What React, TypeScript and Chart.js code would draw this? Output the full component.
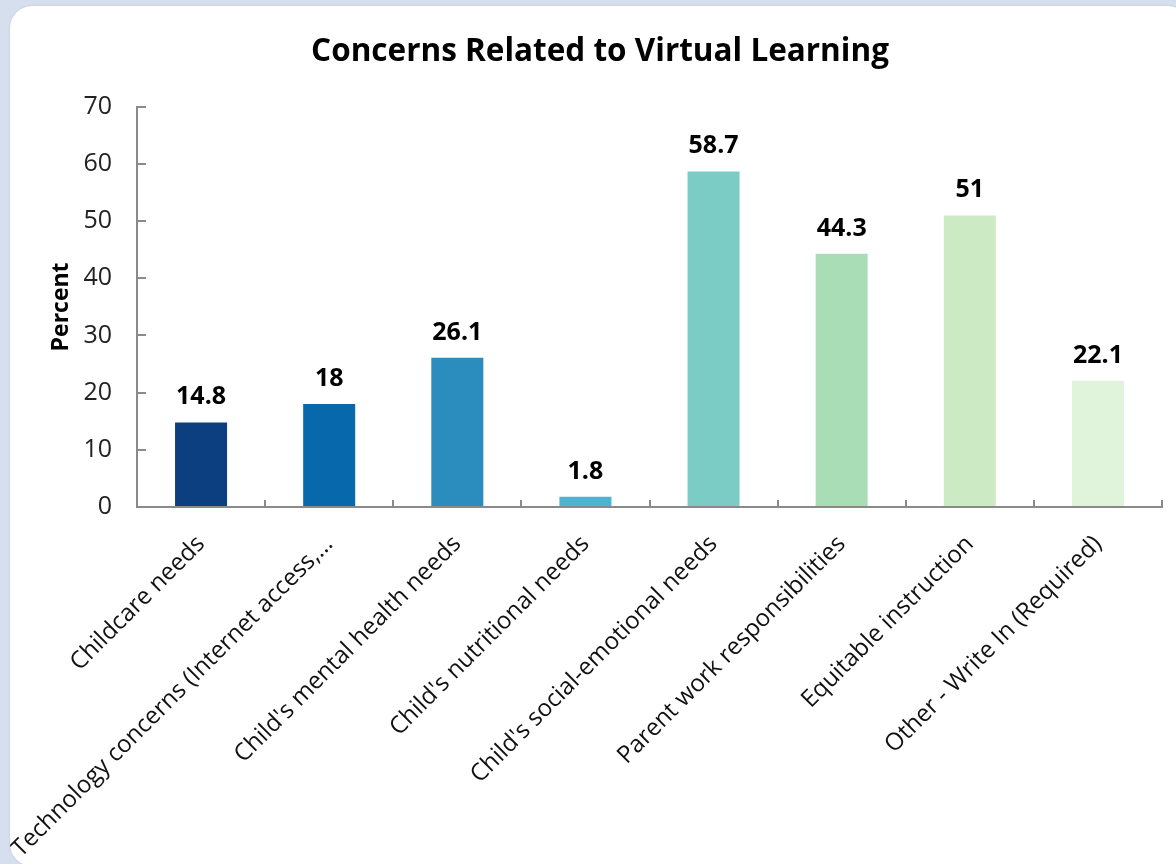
import React, { useEffect, useRef } from "react";
import { Chart, registerables } from "chart.js";

Chart.register(...registerables);

const categories = [
  "Childcare needs",
  "Technology concerns (Internet access,…",
  "Child's mental health needs",
  "Child's nutritional needs",
  "Child's social-emotional needs",
  "Parent work responsibilities",
  "Equitable instruction",
  "Other - Write In (Required)",
];
const values = [14.8, 18, 26.1, 1.8, 58.7, 44.3, 51, 22.1];
const barColors = [
  "#0B3F7F",
  "#0868AC",
  "#2B8CBE",
  "#4EB3D3",
  "#7BCCC4",
  "#A8DDB5",
  "#CCEBC5",
  "#E0F3DB",
];
const yTicks = [0, 10, 20, 30, 40, 50, 60, 70];

const FONT = "'Open Sans', 'Noto Sans', sans-serif";

const valueLabels = {
  id: "valueLabels",
  afterDatasetsDraw(chart: any) {
    const ctx = chart.ctx;
    const meta = chart.getDatasetMeta(0);
    ctx.save();
    ctx.font = `bold 25px ${FONT}`;
    ctx.fillStyle = "#000";
    ctx.textAlign = "center";
    ctx.textBaseline = "alphabetic";
    meta.data.forEach((bar: any, i: number) => {
      ctx.fillText(String(values[i]), bar.x, bar.y - 18);
    });
    ctx.restore();
  },
};

export default function App() {
  const ref = useRef<HTMLCanvasElement>(null);
  useEffect(() => {
    document.body.style.margin = "0";
    const chart = new Chart(ref.current!, {
      type: "bar",
      data: {
        labels: categories,
        datasets: [
          {
            data: values,
            backgroundColor: barColors,
            borderWidth: 0,
            categoryPercentage: 1,
            barPercentage: 0.406,
          },
        ],
      },
      options: {
        animation: false,
        responsive: false,
        devicePixelRatio: 1,
        layout: { padding: { left: 28, right: 28, top: 0, bottom: 0 } },
        plugins: {
          legend: { display: false },
          tooltip: { enabled: false },
          title: {
            display: true,
            text: "Concerns Related to Virtual Learning",
            color: "#000",
            font: { family: FONT, size: 31.5, weight: "bold" },
            padding: { top: 27, bottom: 36 },
          },
        },
        scales: {
          x: {
            grid: {
              drawOnChartArea: false,
              tickLength: -7,
              color: "#8a8a8a",
              lineWidth: 2,
            },
            border: { color: "#8a8a8a", width: 2 },
            ticks: {
              autoSkip: false,
              maxRotation: 45,
              minRotation: 45,
              padding: 30,
              color: "#111",
              font: { family: FONT, size: 24 },
            },
            afterFit(scale: any) {
              scale.height = 359;
            },
          },
          y: {
            min: 0,
            max: 70,
            afterBuildTicks(scale: any) {
              scale.ticks = yTicks.map((v) => ({ value: v }));
            },
            grid: {
              drawOnChartArea: false,
              tickLength: -9,
              color: "#8a8a8a",
              lineWidth: 2,
            },
            border: { color: "#8a8a8a", width: 2 },
            ticks: {
              padding: 34,
              color: "#222",
              font: { family: FONT, size: 25 },
            },
            title: {
              display: true,
              text: "Percent",
              color: "#000",
              font: { family: FONT, size: 23, weight: "bold" },
              padding: { top: 10, bottom: 0 },
            },
            afterFit(scale: any) {
              scale.width = 99;
            },
          },
        },
      },
      plugins: [valueLabels],
    });
    return () => chart.destroy();
  }, []);

  return (
    <div
      style={{
        position: "fixed",
        inset: 0,
        background: "#D6DFEE",
        overflow: "hidden",
      }}
    >
      <div
        style={{
          position: "absolute",
          left: 10,
          top: 6,
          width: 1180,
          height: 860,
          borderRadius: 22,
          background: "#fff",
          overflow: "hidden",
          boxShadow: "0 0 2px rgba(0,0,0,0.15)",
        }}
      >
        <canvas ref={ref} width={1180} height={860} style={{ display: "block" }} />
      </div>
    </div>
  );
}
